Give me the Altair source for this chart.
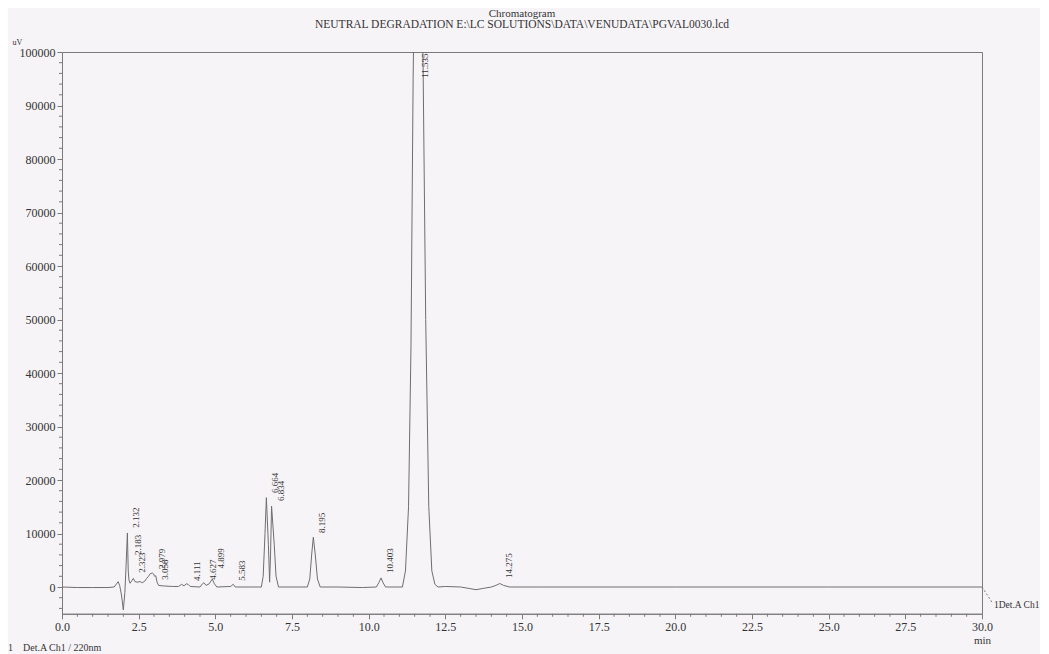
import altair as alt
import pandas as pd

# ---- trace (retention time in min, signal in uV) ----
trace_t = [0.0, 0.5, 1.0, 1.5, 1.7, 1.78, 1.83, 1.88, 1.94, 2.0, 2.05, 2.09, 2.132, 2.16,
           2.183, 2.22, 2.28, 2.323, 2.38, 2.45, 2.55, 2.62, 2.7, 2.76, 2.82, 2.88, 2.95,
           2.979, 3.02, 3.058, 3.1, 3.15, 3.3, 3.6, 3.8, 3.9, 3.98, 4.05, 4.111, 4.18,
           4.5, 4.58, 4.627, 4.7, 4.8, 4.899, 4.97, 5.05, 5.5, 5.583, 5.65, 6.2, 6.5,
           6.56, 6.62, 6.664, 6.73, 6.77, 6.8, 6.834, 6.92, 6.98, 7.06, 7.5, 8.0, 8.08,
           8.14, 8.195, 8.26, 8.33, 8.42, 9.0, 9.8, 10.25, 10.33, 10.403, 10.47, 10.55,
           11.1, 11.2, 11.3, 11.38, 11.45, 11.535, 11.62, 11.7, 11.77, 11.86, 11.96,
           12.06, 12.16, 12.26, 12.5, 13.0, 13.3, 13.5, 13.7, 14.0, 14.15, 14.275, 14.4,
           14.6, 15.5, 20.0, 25.0, 30.0]
trace_v = [0, -100, -100, -100, 0, 600, 1000, 300, -1500, -4300, -1000, 4000, 10100, 3000,
           1300, 700, 1200, 1600, 1000, 900, 1000, 800, 1100, 1600, 2000, 2500, 2600,
           2500, 2000, 2100, 900, 300, 200, 100, 100, 500, 200, 600, 500, 100,
           0, 600, 800, 300, 600, 1500, 600, 0, 100, 500, 0, 0, 0,
           2000, 10000, 16700, 8000, 900, 6000, 15100, 8000, 2000, 0, 0, 0, 1500,
           6000, 9300, 6000, 1500, 0, 0, -100, 0, 800, 1700, 800, 0,
           0, 3000, 15000, 45000, 95000, 135000, 120000, 105000, 100000, 50000, 15000,
           3000, 500, 0, 100, 0, -300, -500, -300, 0, 300, 650, 300,
           0, 0, 0, 0, 0]

# ---- peak labels ----
peak_rt = [2.132, 2.183, 2.323, 2.979, 3.058, 4.111, 4.627, 4.899, 5.583, 6.664, 6.834,
           8.195, 10.403, 11.535, 14.275]
peak_label = ["2.132", "2.183", "2.323", "2.979", "3.058", "4.111", "4.627", "4.899",
              "5.583", "6.664", "6.834", "8.195", "10.403", "11.535", "14.275"]
label_base = [10700, 5600, 2300, 3000, 1000, 750, 1000, 3100, 800, 17200, 15700,
              9700, 2250, 94800, 1300]

# ---- axis ticks ----
y_major = [0, 10000, 20000, 30000, 40000, 50000, 60000, 70000, 80000, 90000, 100000]
y_minor = [-4000, -2000, 2000, 4000, 6000, 8000, 12000, 14000, 16000, 18000, 22000, 24000,
           26000, 28000, 32000, 34000, 36000, 38000, 42000, 44000, 46000, 48000, 52000,
           54000, 56000, 58000, 62000, 64000, 66000, 68000, 72000, 74000, 76000, 78000,
           82000, 84000, 86000, 88000, 92000, 94000, 96000, 98000]
x_major = [0.0, 2.5, 5.0, 7.5, 10.0, 12.5, 15.0, 17.5, 20.0, 22.5, 25.0, 27.5, 30.0]
x_minor = [0.5, 1.0, 1.5, 2.0, 3.0, 3.5, 4.0, 4.5, 5.5, 6.0, 6.5, 7.0, 8.0, 8.5, 9.0, 9.5,
           10.5, 11.0, 11.5, 12.0, 13.0, 13.5, 14.0, 14.5, 15.5, 16.0, 16.5, 17.0, 18.0,
           18.5, 19.0, 19.5, 20.5, 21.0, 21.5, 22.0, 23.0, 23.5, 24.0, 24.5, 25.5, 26.0,
           26.5, 27.0, 28.0, 28.5, 29.0, 29.5]

title_lines = ["Chromatogram",
               "NEUTRAL DEGRADATION E:\\LC SOLUTIONS\\DATA\\VENUDATA\\PGVAL0030.lcd"]
footer_text = "1\u00a0\u00a0\u00a0\u00a0Det.A Ch1 / 220nm"
end_label = "1Det.A Ch1"

FONT = "Liberation Serif"
INK = "#333333"
LINE = "#7a7a7a"
BG = "#f7f4f8"

W, H = 920, 561.75

trace = pd.DataFrame({"t": trace_t, "v": trace_v})
labels = pd.DataFrame({"t": peak_rt, "v": label_base, "txt": peak_label})

xscale = alt.Scale(domain=[0, 30], nice=False, zero=False)
yscale = alt.Scale(domain=[-5000, 100000], nice=False, zero=False)

xaxis = alt.Axis(values=x_major, format=".1f", tickSize=5, labelOverlap=False,
                 grid=False, domainColor=LINE, tickColor=LINE, labelColor=INK,
                 labelFont=FONT, labelFontSize=12, labelPadding=3, labelFlush=False,
                 title="min", titleFont=FONT, titleFontSize=11, titleFontWeight="normal",
                 titleColor=INK, titleX=W, titleY=27, titleAlign="center",
                 titleBaseline="middle")
yaxis = alt.Axis(values=y_major, format="d", tickSize=5, labelOverlap=False,
                 grid=False, domainColor=LINE, tickColor=LINE, labelColor=INK,
                 labelFont=FONT, labelFontSize=12, labelPadding=2,
                 title="uV", titleFont=FONT, titleFontSize=8, titleFontWeight="normal",
                 titleColor=INK, titleAngle=0, titleX=-50, titleY=-6, titleAlign="left")


def X(field):
    return alt.X(field, scale=xscale, axis=xaxis)


def Y(field):
    return alt.Y(field, scale=yscale, axis=yaxis)


line = alt.Chart(trace).mark_line(color="#6e6e6e", strokeWidth=1, clip=True).encode(
    x=X("t:Q"), y=Y("v:Q"))

# minor ticks drawn from the tick arrays through the same scales
ymin = alt.Chart(pd.DataFrame({"v": y_minor})).mark_rule(color=LINE, strokeWidth=1).encode(
    y=Y("v:Q"), x=alt.value(-3), x2=alt.value(0))
xmin = alt.Chart(pd.DataFrame({"t": x_minor})).mark_rule(color=LINE, strokeWidth=1).encode(
    x=X("t:Q"), y=alt.value(H), y2=alt.value(H + 3))

text = alt.Chart(labels).mark_text(angle=270, align="left", baseline="middle",
                                   dx=2, dy=9, font=FONT, fontSize=9, color=INK).encode(
    x=X("t:Q"), y=Y("v:Q"), text="txt:N")

end_df = pd.DataFrame({"t": [30.0], "v": [0], "txt": [end_label]})
end_rule = alt.Chart(end_df).mark_rule(color=LINE, strokeDash=[2, 2], strokeWidth=1).encode(
    x=X("t:Q"), y=Y("v:Q"), x2=alt.value(W + 11), y2=alt.value(H - 10))
end_text = alt.Chart(end_df).mark_text(align="left", baseline="middle", font=FONT,
                                       fontSize=9.5, color=INK, dx=12, dy=18).encode(
    x=X("t:Q"), y=Y("v:Q"), text="txt:N")

foot_df = pd.DataFrame({"txt": [footer_text]})
foot = alt.Chart(foot_df).mark_text(align="left", baseline="middle", font=FONT,
                                    fontSize=10, color=INK).encode(
    x=alt.value(-54), y=alt.value(H + 34), text="txt:N")

title_df = pd.DataFrame({"txt": title_lines})
title1 = alt.Chart(title_df.iloc[[0]]).mark_text(
    align="center", baseline="middle", font=FONT, fontSize=11, color=INK).encode(
    x=alt.value(W / 2), y=alt.value(-38), text="txt:N")
title2 = alt.Chart(title_df.iloc[[1]]).mark_text(
    align="center", baseline="middle", font=FONT, fontSize=11.5, color=INK).encode(
    x=alt.value(W / 2), y=alt.value(-27), text="txt:N")

chart = alt.layer(line, ymin, xmin, text, end_rule, end_text, foot, title1, title2).properties(
    width=W, height=H,
    autosize=alt.AutoSizeParams(type="none"),
    padding={"left": 54, "top": 44, "right": 58, "bottom": 50},
    background=BG,
).configure_view(stroke=LINE, strokeWidth=1)

chart.save("out.html", embed_options={"renderer": "svg", "actions": False})
